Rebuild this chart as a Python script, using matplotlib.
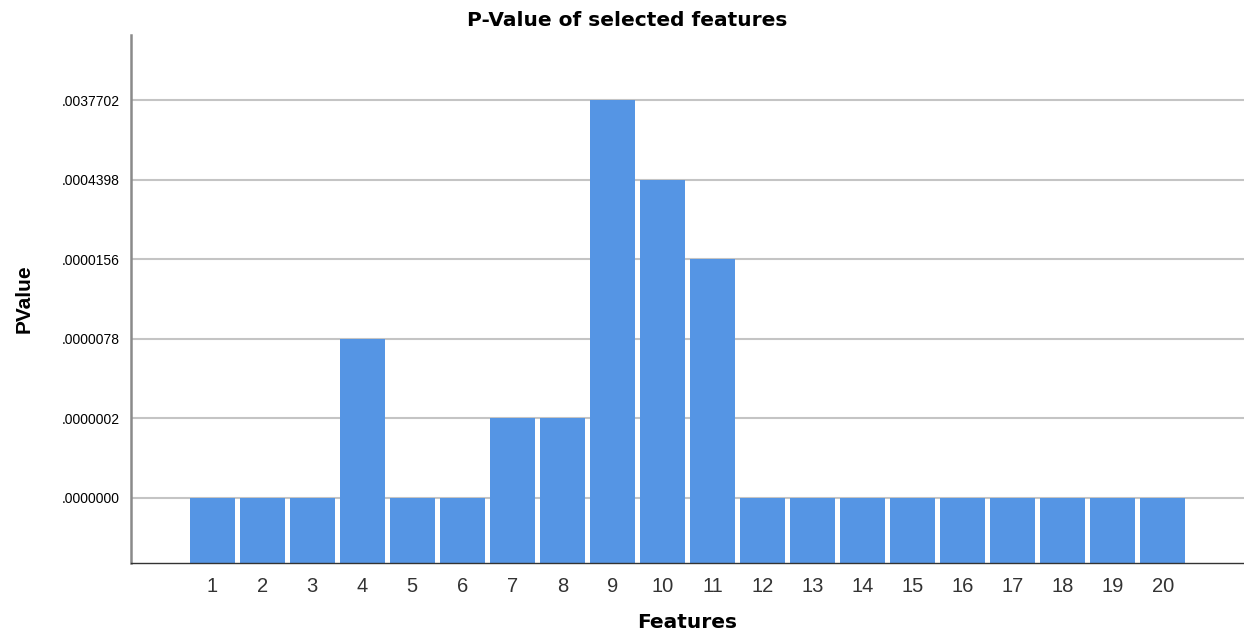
import matplotlib.pyplot as plt
import numpy as np

plt.rcParams['font.family'] = ['Liberation Sans', 'DejaVu Sans']

# p-value categories shown on the y axis (ordinal, as in the source chart)
pvalue_levels = ['.0000000', '.0000002', '.0000078', '.0000156', '.0004398', '.0037702']
features = list(range(1, 21))
feature_pvalues = ['.0000000', '.0000000', '.0000000', '.0000078', '.0000000',
                   '.0000000', '.0000002', '.0000002', '.0037702', '.0004398',
                   '.0000156', '.0000000', '.0000000', '.0000000', '.0000000',
                   '.0000000', '.0000000', '.0000000', '.0000000', '.0000000']

level_idx = np.array([pvalue_levels.index(p) for p in feature_pvalues])

fig = plt.figure(figsize=(12.44, 6.37), dpi=100)
ax = fig.add_axes([0.1053, 0.1162, 0.8947, 0.8289])

base = -0.82
ax.set_ylim(base, len(pvalue_levels) - 1 + 0.82)
ax.set_xlim(-0.62, 21.62)

# gridlines at each category level
for i in range(len(pvalue_levels)):
    ax.axhline(i, color='#c4c4c4', lw=1.5, zorder=1)

ax.bar(features, level_idx - base, bottom=base, width=0.9,
       color='#5595e4', edgecolor='none', zorder=2)

ax.set_yticks(range(len(pvalue_levels)))
ax.set_yticklabels(pvalue_levels, fontsize=10)
ax.set_xticks(features)
ax.set_xticklabels([str(f) for f in features], fontsize=14.5, color='#333333')
ax.tick_params(axis='both', length=0)
ax.tick_params(axis='y', pad=8)
ax.tick_params(axis='x', pad=10)

for s in ['top', 'right']:
    ax.spines[s].set_visible(False)
ax.spines['left'].set_color('#8a8a8a')
ax.spines['left'].set_linewidth(1.8)
ax.spines['bottom'].set_color('#333333')
ax.spines['bottom'].set_linewidth(1.0)

fig.text(0.504, 0.968, 'P-Value of selected features', fontsize=14.5,
         fontweight='bold', ha='center', va='center', family='DejaVu Sans')
ax.set_xlabel('Features', fontsize=14.5, fontweight='bold', labelpad=12,
              family='DejaVu Sans')
ax.set_ylabel('PValue', fontsize=15, fontweight='bold', labelpad=20)

fig.savefig('out.png', dpi=100)
